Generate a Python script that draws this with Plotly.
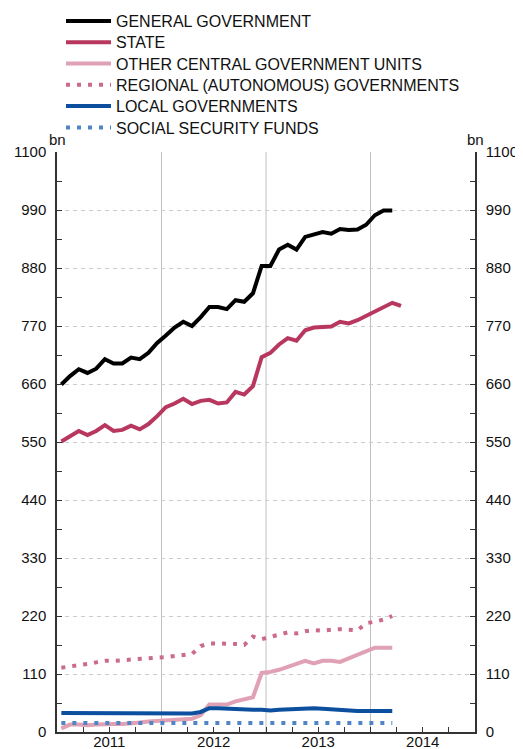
import plotly.graph_objects as go

# monthly data, Jan 2011 onwards (bn)
meses = [2011 + (i + 0.5) / 12 for i in range(40)]

general = [659, 675, 688, 681, 689, 707, 699, 699, 710, 707, 719, 738,
           752, 767, 778, 770, 787, 806, 806, 802, 819, 816, 832, 884,
           884, 915, 924, 915, 939, 944, 948, 945, 954, 952, 953, 962,
           980, 989, 989]
estado = [551, 562, 571, 563, 571, 582, 571, 573, 581, 574, 584, 599,
          616, 623, 632, 622, 628, 630, 623, 625, 645, 640, 656, 711,
          719, 735, 747, 742, 762, 767, 768, 769, 778, 775, 781, 789,
          797, 806, 814, 808]
otros_central = [7, 14, 14, 13, 14, 15, 15, 15, 16, 18, 20, 21,
                 22, 23, 25, 25, 32, 52, 52, 52, 58, 62, 66, 112,
                 114, 118, 123, 129, 135, 130, 135, 135, 133, 140, 147, 154,
                 160, 160, 160]
autonomicas = [122, 124, 126, 129, 132, 135, 135, 136, 138, 138, 140, 141,
               142, 144, 146, 148, 163, 168, 168, 168, 167, 165, 181, 176,
               180, 184, 189, 187, 191, 193, 192, 194, 195, 194, 193, 206,
               209, 213, 220]
locales = [36, 36, 36, 36, 36, 36, 36, 35, 35, 35, 35, 35,
           35, 35, 35, 35, 38, 45, 45, 44, 43, 43, 42, 42,
           41, 42, 43, 44, 44, 45, 44, 43, 41, 40, 40, 40,
           40, 40, 40]
seg_social = [17, 17, 17, 17, 17, 17, 17, 17, 17, 17, 17, 17,
              17, 17, 17, 17, 17, 17, 17, 17, 17, 17, 17, 17,
              17, 17, 17, 17, 17, 17, 17, 17, 17, 18, 17, 17,
              17, 17, 17]

y_ticks = [0, 110, 220, 330, 440, 550, 660, 770, 880, 990, 1100]
anios = ["2011", "2012", "2013", "2014"]

FUENTE = "Liberation Sans, Arial, sans-serif"
# la pagina deja 8px de margen en el body
ANCHO = 515
ALTO = 741

series = [
    ("GENERAL GOVERNMENT", general, "#000000", "solid"),
    ("STATE", estado, "#b8375f", "solid"),
    ("OTHER CENTRAL GOVERNMENT UNITS", otros_central, "#e0a1b5", "solid"),
    ("REGIONAL (AUTONOMOUS) GOVERNMENTS", autonomicas, "#cc6a8d", "4px,7px"),
    ("LOCAL GOVERNMENTS", locales, "#0b4f9e", "solid"),
    ("SOCIAL SECURITY FUNDS", seg_social, "#4f85c4", "4px,7px"),
]

fig = go.Figure()
leyendas = {}
for i, (nombre, valores, color, dash) in enumerate(series):
    clave = "legend" if i == 0 else "legend%d" % (i + 1)
    fig.add_trace(go.Scatter(
        x=meses[:len(valores)], y=valores, name=nombre, mode="lines",
        line=dict(color=color, width=4, dash=dash), legend=clave,
    ))
    # una leyenda por fila para controlar el espaciado
    fila_y = 13 + i * 21.3
    leyendas[clave] = dict(
        xref="container", yref="container", x=53 / ANCHO, y=1 - fila_y / ALTO,
        xanchor="left", yanchor="middle", font=dict(size=16, color="#111"),
        bgcolor="rgba(0,0,0,0)", itemwidth=45,
    )

# eje derecho (mismas etiquetas)
fig.add_trace(go.Scatter(x=[meses[0]], y=[0], yaxis="y2", mode="lines",
                         line=dict(width=0), showlegend=False, hoverinfo="skip"))

# lineas verticales de separacion de anios
for a in [2012, 2013, 2014]:
    fig.add_shape(type="line", xref="x", yref="paper", x0=a, x1=a, y0=0, y1=1,
                  line=dict(color="#c0c0c0", width=1), layer="below")

eje_y = dict(
    range=[0, 1100], tickvals=y_ticks, ticks="inside", ticklen=5,
    tickcolor="#333", showline=True, linecolor="#333", linewidth=1.5,
    showgrid=True, gridcolor="#cccccc", griddash="4px,4px", gridwidth=1,
    zeroline=False, tickfont=dict(size=15, color="#111"), automargin=False,
    ticklabelstandoff=6,
    minor=dict(dtick=55, tick0=0, ticks="inside", ticklen=5, tickcolor="#333", showgrid=False),
)

fig.update_layout(
    width=ANCHO, height=ALTO,
    margin=dict(l=49, r=48, t=144, b=17, autoexpand=False),
    paper_bgcolor="white", plot_bgcolor="white",
    font=dict(family=FUENTE, color="#111"),
    showlegend=True,
    xaxis=dict(
        range=[2011, 2015], tickvals=[2011.5, 2012.5, 2013.5, 2014.5], ticktext=anios,
        ticks="inside", ticklen=5, tickcolor="#333", showline=True, linecolor="#333",
        linewidth=1.5, showgrid=False, zeroline=False, tickfont=dict(size=15, color="#111"),
        automargin=False, ticklabelstandoff=-5,
        minor=dict(dtick=0.25, tick0=2011, ticks="inside", ticklen=5, tickcolor="#333"),
    ),
    yaxis=eje_y,
    yaxis2=dict(eje_y, overlaying="y", side="right", showgrid=False),
    **leyendas,
)

fig.add_annotation(text="bn", xref="paper", yref="paper", x=0, y=1.003,
                   xanchor="center", yanchor="bottom", showarrow=False,
                   font=dict(size=15, color="#111"))
fig.add_annotation(text="bn", xref="paper", yref="paper", x=1, y=1.003,
                   xanchor="center", yanchor="bottom", showarrow=False,
                   font=dict(size=15, color="#111"))

fig.write_html("out.html")
